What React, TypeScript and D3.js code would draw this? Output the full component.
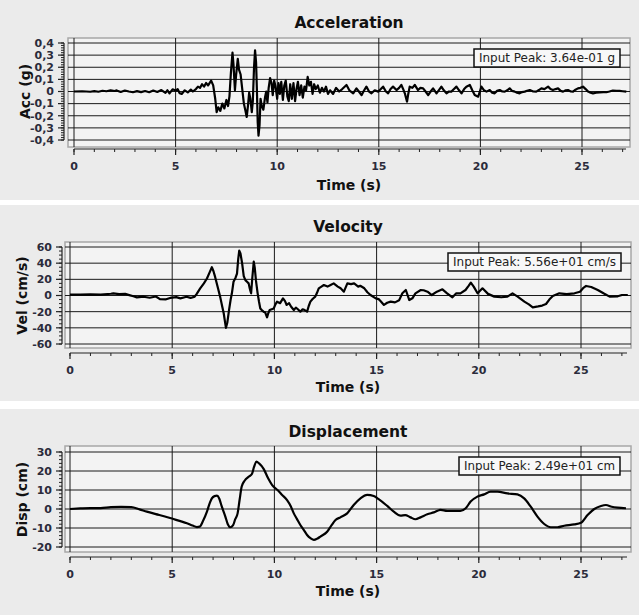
import React from "react";
import * as d3 from "d3";

// ---------- data ----------
const timeTicks = [0, 5, 10, 15, 20, 25];

const accTime = [0,0.4,0.8,1.0,1.2,1.4,1.6,1.8,2.0,2.1,2.3,2.5,2.7,2.9,3.1,3.3,3.5,3.7,3.9,4.1,4.3,4.5,4.6,4.7,4.85,5.0,5.1,5.2,5.3,5.45,5.6,5.75,5.85,6.0,6.1,6.2,6.3,6.4,6.5,6.6,6.75,6.85,6.95,7.02,7.1,7.2,7.3,7.4,7.5,7.58,7.65,7.72,7.8,7.85,7.92,7.98,8.06,8.12,8.2,8.28,8.36,8.44,8.5,8.56,8.62,8.68,8.75,8.8,8.86,8.91,8.96,9.0,9.04,9.08,9.13,9.18,9.24,9.32,9.4,9.46,9.52,9.58,9.65,9.72,9.78,9.85,9.92,10.0,10.06,10.13,10.2,10.28,10.35,10.42,10.5,10.57,10.64,10.72,10.8,10.88,10.95,11.02,11.1,11.18,11.26,11.34,11.42,11.5,11.58,11.66,11.74,11.82,11.9,12.0,12.1,12.2,12.3,12.4,12.5,12.6,12.75,12.9,13.05,13.2,13.41,13.55,13.74,13.9,14.02,14.15,14.28,14.39,14.52,14.64,14.8,14.97,15.1,15.21,15.35,15.46,15.58,15.7,15.87,16.0,16.11,16.2,16.28,16.35,16.39,16.45,16.52,16.65,16.77,16.93,17.05,17.18,17.3,17.43,17.55,17.67,17.84,17.95,18.08,18.2,18.33,18.45,18.57,18.7,18.82,18.95,19.07,19.2,19.31,19.48,19.6,19.72,19.89,20.05,20.18,20.3,20.46,20.58,20.7,20.82,20.95,21.08,21.2,21.32,21.44,21.56,21.69,21.8,21.93,22.05,22.18,22.3,22.43,22.6,22.75,22.88,23.0,23.15,23.33,23.45,23.57,23.7,23.82,23.95,24.07,24.2,24.31,24.45,24.56,24.68,24.8,24.92,25.05,25.18,25.3,25.42,25.54,25.7,25.87,26.05,26.2,26.35,26.52,26.7,26.85,27.0,27.18];
const accValue = [0,0.002,-0.002,0.003,-0.002,0.006,0.002,0.01,0.004,0.009,-0.004,0.008,0,-0.006,0.003,-0.005,0.004,-0.006,0.008,-0.004,0.012,-0.012,0.01,-0.015,0.018,0.008,0.02,-0.015,-0.02,0.01,-0.008,0.015,0,0.02,0.04,0.03,0.06,0.04,0.07,0.05,0.09,0.05,-0.06,-0.17,-0.13,-0.16,-0.1,-0.14,-0.07,-0.12,-0.04,0.15,0.32,0.22,0.01,0.14,0.27,0.18,0.14,0.02,-0.1,-0.16,-0.21,-0.12,-0.01,-0.06,-0.17,-0.08,0.2,0.34,0.24,0.02,-0.25,-0.364,-0.28,-0.06,-0.12,-0.15,-0.05,0,-0.09,0.03,0.11,0.07,-0.03,0.09,0.04,-0.06,0.07,-0.02,0.08,-0.07,0.05,0.09,-0.04,-0.08,0.06,-0.06,0.07,-0.08,0.02,0.08,-0.03,0.05,-0.05,0.04,0.01,0.12,0.05,0.08,-0.02,0.06,0.02,0.05,-0.01,0.03,0,0.04,-0.02,0.01,-0.02,0.03,0,0.02,0.054,0.01,-0.015,0.026,0,-0.03,0.01,0.04,0,-0.015,0.01,-0.001,0.02,0.04,0,-0.015,0.02,0.04,0.012,0.03,0.054,0.02,-0.015,-0.06,-0.084,-0.02,0.04,0.03,0.054,0.012,0.03,0.026,0,-0.029,0,0.026,-0.015,0.01,0.04,0.01,-0.015,0,-0.001,0.02,0.04,0.01,-0.015,0.02,0.04,0.054,0.01,-0.029,-0.043,0.04,0.01,-0.001,0.012,-0.01,-0.015,0.005,0.012,0,-0.001,0.01,0.026,0.005,-0.001,-0.01,-0.015,-0.005,-0.001,0.006,0.012,0,-0.001,0.012,0.026,0.02,0.04,0.02,0.012,0.02,0.026,0.005,-0.001,0.01,0.012,0,-0.001,0.015,0.026,0.03,0.04,0.02,-0.001,-0.01,-0.015,-0.01,-0.008,-0.005,-0.006,0,0.008,0.006,0.005,0.002,-0.001];
const accTicks = [0.4, 0.3, 0.2, 0.1, 0, -0.1, -0.2, -0.3, -0.4];

const velTime = [0,0.5,1.0,1.5,2.0,2.12,2.4,2.7,2.9,3.1,3.27,3.6,3.9,4.2,4.4,4.7,4.9,5.2,5.4,5.7,5.9,6.1,6.2,6.37,6.55,6.7,6.82,6.94,7.02,7.1,7.25,7.35,7.45,7.52,7.58,7.63,7.7,7.78,7.86,7.92,8.0,8.1,8.17,8.23,8.28,8.34,8.42,8.5,8.58,8.66,8.74,8.8,8.86,8.92,8.99,9.04,9.1,9.18,9.25,9.31,9.38,9.47,9.55,9.64,9.7,9.77,9.87,9.97,10.05,10.13,10.28,10.42,10.52,10.6,10.72,10.82,10.95,11.05,11.15,11.27,11.38,11.48,11.6,11.68,11.76,11.88,12.0,12.08,12.17,12.3,12.42,12.6,12.75,12.9,13.1,13.24,13.4,13.57,13.75,13.9,14.1,14.2,14.4,14.55,14.7,14.96,15.1,15.2,15.36,15.52,15.69,15.9,16.1,16.26,16.43,16.6,16.75,16.9,17.16,17.3,17.49,17.7,17.95,18.22,18.45,18.71,18.9,19.1,19.35,19.5,19.61,19.75,19.94,20.18,20.45,20.76,21.1,21.4,21.65,21.9,22.23,22.45,22.64,22.9,23.1,23.29,23.45,23.62,23.94,24.3,24.68,24.95,25.1,25.25,25.5,25.82,26.1,26.4,26.8,27.0,27.29];
const velValue = [1.2,1.0,1.5,1.0,2.2,2.7,1.8,2.0,0.5,-1.0,-2.3,-1.5,-2.8,-1.2,-4.5,-4.7,-3.0,-2.0,-3.5,-1.5,-3.0,-1.4,2.0,8.8,15,21,28,35,30,23,8,-2,-14,-22,-32,-40,-33,-18,-5,2.7,17,22,27,45,55.6,52,40,24,19,17,15,8,2.7,22,42,34,18,2.7,-8,-16,-18,-20,-21,-27,-22,-18,-17,-16,-11,-7.6,-9.5,-3.5,-7,-11.7,-9.5,-14,-18,-15,-17,-20,-17,-18,-20,-13,-7.6,-4,-1.4,3,8.8,11,13,11,13,15,11,8.9,4.7,15,14,15,11,12,8.9,4,0.6,-3.5,-4.5,-7,-11.7,-9,-7.6,-8.5,-6,2.7,6.8,-5.6,-3.5,2.7,6.8,6.5,4.7,0.6,4.7,7.6,2.7,-2.3,2.7,2.7,6.8,12,16,11,2.7,8.9,2,-1.4,-2.2,-1.4,2.7,-1.4,-7.6,-11,-14.6,-13.5,-12.5,-10.5,-5,-0.6,2.7,1.8,2.7,4.7,9,11.8,10.5,6.8,2.7,-1.4,-1,0.6,0.6];
const velTicks = [60, 40, 20, 0, -20, -40, -60];

const dispTime = [0,0.5,1.0,1.5,2.0,2.5,3.0,3.4,3.76,4.2,4.6,5.06,5.4,5.72,6.0,6.21,6.35,6.5,6.7,6.85,6.94,7.07,7.19,7.3,7.42,7.6,7.72,7.84,7.98,8.08,8.2,8.3,8.4,8.55,8.74,8.9,9.0,9.12,9.25,9.48,9.7,9.89,10.05,10.2,10.38,10.62,10.8,10.95,11.1,11.27,11.45,11.6,11.78,11.93,12.1,12.25,12.58,12.8,12.99,13.23,13.56,13.88,14.21,14.54,14.86,15.1,15.52,15.84,16.17,16.4,16.66,16.9,17.15,17.48,17.8,18.13,18.45,18.79,19.1,19.36,19.6,19.93,20.26,20.58,20.91,21.4,21.89,22.22,22.54,22.87,23.2,23.52,23.85,24.18,24.67,25.0,25.32,25.65,25.98,26.22,26.5,26.79,27.2];
const dispValue = [0,0.3,0.5,0.5,1.0,1.1,1.0,-0.2,-1.4,-2.7,-3.8,-5.3,-6.4,-7.5,-8.7,-9.5,-9.3,-6.5,-1.4,3.5,5.6,6.8,7.0,5.5,1.5,-4.0,-8,-9.6,-8.5,-5.5,-2.3,5,11.8,15,17,18.4,22,24.9,24,21,16,12.6,10.9,9.5,7.4,4.7,1.5,-2.3,-5.2,-8.4,-11.2,-13.7,-15.5,-16.3,-15.6,-14.5,-12,-8.5,-5.8,-4.4,-2.3,2.1,5.6,7.4,6.8,5.2,1.6,-1.4,-3.5,-3.2,-4.4,-5.4,-4.4,-2.8,-1.8,-0.5,-1.0,-1.0,-1.0,0.4,3.9,6.5,7.7,9.1,9.1,8.2,7.7,5.6,1.2,-4,-7.9,-9.6,-9.6,-8.8,-8.1,-7.2,-3.2,0,1.6,2.1,1.2,0.7,0.4];
const dispTicks = [30, 20, 10, 0, -10, -20];

const titles = ["Acceleration", "Velocity", "Displacement"];
const yLabels = ["Acc (g)", "Vel (cm/s)", "Disp (cm)"];
const peakLabels = ["Input Peak: 3.64e-01 g", "Input Peak: 5.56e+01 cm/s", "Input Peak: 2.49e+01 cm"];

// ---------- layout ----------
const W = 639;
const H = 615;
const FONT = "'DejaVu Sans', Verdana, sans-serif";

const commaFmt = d3.formatLocale({ decimal: ",", thousands: ".", grouping: [3], currency: ["", ""], minus: "-" }).format(".1~f");
const plainFmt = (d: number) => String(d);

type Cfg = {
  title: string; yLabel: string; peak: string;
  t: number[]; v: number[]; ticks: number[]; minor: number; fmt: (d: number) => string;
  panelY0: number; panelY1: number;
  box: [number, number, number, number];
  x0: number; x25: number;
  yPx: [number, number];
  axisX: number; xAxisY: number; titleY: number; timeY: number; yLabelX: number;
  legend: [number, number, number, number];
  curve: any;
};

const cfgs: Cfg[] = [
  {
    title: titles[0], yLabel: yLabels[0], peak: peakLabels[0], t: accTime, v: accValue, ticks: accTicks, minor: 0.02, fmt: commaFmt,
    panelY0: 0, panelY1: 200, box: [68, 38, 630, 147], x0: 74, x25: 582, yPx: [43, 140],
    axisX: 64, xAxisY: 149, titleY: 28, timeY: 190, yLabelX: 25, legend: [474, 49, 620, 67], curve: d3.curveLinear,
  },
  {
    title: titles[1], yLabel: yLabels[1], peak: peakLabels[1], t: velTime, v: velValue, ticks: velTicks, minor: 5, fmt: plainFmt,
    panelY0: 205, panelY1: 401, box: [65, 242, 631, 348], x0: 70, x25: 581, yPx: [247, 344],
    axisX: 62, xAxisY: 353, titleY: 232, timeY: 392, yLabelX: 22, legend: [448, 253, 621, 271], curve: d3.curveLinear,
  },
  {
    title: titles[2], yLabel: yLabels[2], peak: peakLabels[2], t: dispTime, v: dispValue, ticks: dispTicks, minor: 2, fmt: plainFmt,
    panelY0: 409, panelY1: 615, box: [65, 446, 631, 552], x0: 70, x25: 581, yPx: [452, 547],
    axisX: 62, xAxisY: 557, titleY: 437, timeY: 596, yLabelX: 22, legend: [459, 457, 620, 475], curve: d3.curveMonotoneX,
  },
];

function Panel({ c }: { c: Cfg }) {
  const x = d3.scaleLinear().domain([timeTicks[0], timeTicks[timeTicks.length - 1]]).range([c.x0, c.x25]);
  const yTop = c.ticks[0];
  const yBot = c.ticks[c.ticks.length - 1];
  const y = d3.scaleLinear().domain([yTop, yBot]).range(c.yPx);
  const [bx0, by0, bx1, by1] = c.box;
  const xEnd = x.invert(bx1 - 4);
  const minorX = d3.range(0, Math.floor(xEnd) + 1, 1);
  const nMinor = Math.round((yTop - yBot) / c.minor);
  const minorY = d3.range(0, nMinor + 1).map((i) => yTop - i * c.minor);
  const line = d3.line<number>().x((_, i) => x(c.t[i])).y((d) => y(d)).curve(c.curve);
  const clipId = "clip-" + c.title;
  const cx = (bx0 + bx1) / 2 + 0;
  const [lx0, ly0, lx1, ly1] = c.legend;
  return (
    <g>
      <rect x={0} y={c.panelY0} width={W} height={c.panelY1 - c.panelY0} fill="#ebebeb" />
      <text x={cx} y={c.titleY} textAnchor="middle" fontFamily={FONT} fontWeight="bold" fontSize={15.5} fill="#111">{c.title}</text>
      <defs>
        <clipPath id={clipId}><rect x={bx0} y={by0} width={bx1 - bx0} height={by1 - by0} /></clipPath>
      </defs>
      <rect x={bx0} y={by0} width={bx1 - bx0} height={by1 - by0} fill="#f3f3f3" stroke="#a8a8a8" strokeWidth={1.5} />
      {c.ticks.map((d) => (
        <line key={"hg" + d} x1={bx0} x2={bx1} y1={y(d)} y2={y(d)} stroke="#1a1a1a" strokeWidth={1} />
      ))}
      {timeTicks.map((d) => (
        <line key={"vg" + d} x1={x(d)} x2={x(d)} y1={by0} y2={by1} stroke="#1a1a1a" strokeWidth={1} />
      ))}
      <path d={line(c.v) || ""} fill="none" stroke="#000" strokeWidth={2.2} strokeLinejoin="round" clipPath={`url(#${clipId})`} />
      {/* y axis */}
      <line x1={c.axisX} x2={c.axisX} y1={y(yTop)} y2={y(yBot)} stroke="#222" strokeWidth={1.2} />
      {minorY.map((d, i) => (
        <line key={"ym" + i} x1={c.axisX - 3} x2={c.axisX} y1={y(d)} y2={y(d)} stroke="#222" strokeWidth={1} />
      ))}
      {c.ticks.map((d) => (
        <g key={"yt" + d}>
          <line x1={c.axisX - 6} x2={c.axisX} y1={y(d)} y2={y(d)} stroke="#222" strokeWidth={1.2} />
          <text x={c.axisX - 10} y={y(d)} dy="0.35em" textAnchor="end" fontFamily={FONT} fontWeight="bold" fontSize={11} fill="#2b2b3b">{c.fmt(d)}</text>
        </g>
      ))}
      <text transform={`translate(${c.yLabelX},${(y(yTop) + y(yBot)) / 2}) rotate(-90)`} textAnchor="middle" dy="0.35em" fontFamily={FONT} fontWeight="bold" fontSize={14} fill="#111">{c.yLabel}</text>
      {/* x axis */}
      <line x1={x(0)} x2={x(xEnd)} y1={c.xAxisY} y2={c.xAxisY} stroke="#222" strokeWidth={1.2} />
      {minorX.map((d) => (
        <line key={"xm" + d} x1={x(d)} x2={x(d)} y1={c.xAxisY} y2={c.xAxisY + 3} stroke="#222" strokeWidth={1} />
      ))}
      {timeTicks.map((d) => (
        <g key={"xt" + d}>
          <line x1={x(d)} x2={x(d)} y1={c.xAxisY} y2={c.xAxisY + 6} stroke="#222" strokeWidth={1.2} />
          <text x={x(d)} y={c.xAxisY + 21} textAnchor="middle" fontFamily={FONT} fontWeight="bold" fontSize={11} fill="#2b2b3b">{d}</text>
        </g>
      ))}
      <text x={cx} y={c.timeY} textAnchor="middle" fontFamily={FONT} fontWeight="bold" fontSize={14} fill="#111">Time (s)</text>
      {/* legend */}
      <rect x={lx0} y={ly0} width={lx1 - lx0} height={ly1 - ly0} fill="#f8f8f8" stroke="#111" strokeWidth={1.5} />
      <text x={(lx0 + lx1) / 2} y={(ly0 + ly1) / 2} dy="0.36em" textAnchor="middle" fontFamily={FONT} fontSize={12} fill="#222" textLength={lx1 - lx0 - 10} lengthAdjust="spacingAndGlyphs">{c.peak}</text>
    </g>
  );
}

export default function App() {
  return (
    <svg width={W} height={H} style={{ position: "absolute", left: 0, top: 0, background: "#fff" }}>
      {cfgs.map((c) => (
        <Panel key={c.title} c={c} />
      ))}
    </svg>
  );
}
